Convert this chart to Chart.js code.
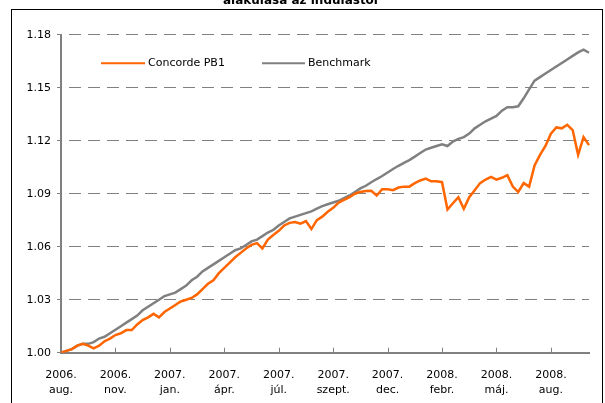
<!DOCTYPE html>
<html>
<head>
<meta charset="utf-8">
<script src="https://cdn.jsdelivr.net/npm/chart.js@4/dist/chart.umd.min.js"></script>
<style>
  html, body { margin: 0; padding: 0; background: #fff; }
  #wrap { position: relative; width: 605px; height: 403px; overflow: hidden; }
  #frame { position: absolute; left: 11px; top: 9px; width: 592px; height: 420px; border: 1px solid #000; box-sizing: border-box; }
  #chart { position: absolute; left: 0; top: -12px; }
</style>
</head>
<body>
<div id="wrap">
  <div id="frame"></div>
  <canvas id="chart" width="605" height="415"></canvas>
</div>
<script>
const titleText = "alakulása az indulástól";

const tickLabels = [
  ["2006.", "aug."], ["2006.", "nov."], ["2007.", "jan."], ["2007.", "ápr."],
  ["2007.", "júl."], ["2007.", "szept."], ["2007.", "dec."], ["2008.", "febr."],
  ["2008.", "máj."], ["2008.", "aug."]
];
const tickEvery = 10;

const concorde = [
  1.000, 1.001, 1.002, 1.004, 1.005, 1.004, 1.0025, 1.004, 1.0065, 1.008,
  1.010, 1.011, 1.0128, 1.0128, 1.016, 1.0185, 1.020, 1.022, 1.020, 1.023,
  1.025, 1.027, 1.029, 1.030, 1.031, 1.033, 1.036, 1.039, 1.041, 1.045,
  1.048, 1.051, 1.054, 1.0565, 1.059, 1.061, 1.062, 1.059, 1.064, 1.0666,
  1.069, 1.072, 1.0735, 1.074, 1.073, 1.0745, 1.070, 1.075, 1.077, 1.0798,
  1.082, 1.085, 1.0865, 1.088, 1.090, 1.091, 1.0915, 1.0917, 1.089, 1.0925,
  1.0925, 1.092, 1.0935, 1.094, 1.094, 1.096, 1.0975, 1.0985, 1.097, 1.097,
  1.0965, 1.081, 1.0846, 1.088, 1.0815, 1.088, 1.092, 1.096, 1.098, 1.0995,
  1.098, 1.099, 1.1005, 1.094, 1.091, 1.096, 1.094, 1.106, 1.112, 1.117,
  1.124, 1.1275, 1.127, 1.129, 1.126, 1.112, 1.122, 1.1175
];

const benchmark = [
  1.000, 1.001, 1.002, 1.004, 1.005, 1.005, 1.006, 1.008, 1.009, 1.011,
  1.013, 1.015, 1.017, 1.019, 1.021, 1.024, 1.026, 1.028, 1.030, 1.032,
  1.033, 1.034, 1.036, 1.038, 1.041, 1.043, 1.046, 1.048, 1.050, 1.052,
  1.054, 1.056, 1.058, 1.059, 1.061, 1.063, 1.064, 1.066, 1.068, 1.0695,
  1.072, 1.074, 1.076, 1.077, 1.078, 1.079, 1.080, 1.0815, 1.083, 1.084,
  1.085, 1.086, 1.0875, 1.089, 1.091, 1.093, 1.0945, 1.0965, 1.0983, 1.100,
  1.102, 1.104, 1.1058, 1.1075, 1.109, 1.111, 1.113, 1.115, 1.116, 1.117,
  1.118, 1.117, 1.1195, 1.121, 1.122, 1.124, 1.127, 1.129, 1.131, 1.1325,
  1.134, 1.137, 1.139, 1.139, 1.1395, 1.144, 1.149, 1.154, 1.156, 1.158,
  1.160, 1.162, 1.164, 1.166, 1.168, 1.170, 1.1715, 1.1698
];

const categories = concorde.map((v, i) => i % tickEvery === 0 ? tickLabels[i / tickEvery] : "");

const orange = "#ff6600";
const gray = "#808080";
const font = "'DejaVu Sans', Verdana, sans-serif";

// inward x ticks + legend drawn inside the plot
const extras = {
  id: "extras",
  afterDraw(chart) {
    const ctx = chart.ctx;
    const area = chart.chartArea;
    const x = chart.scales.x;
    ctx.save();
    ctx.strokeStyle = gray;
    ctx.lineWidth = 1;
    for (let i = tickEvery; i < categories.length; i += tickEvery) {
      const px = Math.round(x.getPixelForValue(i)) + 0.5;
      ctx.beginPath();
      ctx.moveTo(px, area.bottom);
      ctx.lineTo(px, area.bottom - 5);
      ctx.stroke();
    }
    const ly = area.top + 28.6;
    const items = [[40, 84, 87], [201, 244, 247]];
    chart.data.datasets.forEach((ds, k) => {
      const [a, b, t] = items[k];
      ctx.strokeStyle = ds.borderColor;
      ctx.lineWidth = 2;
      ctx.beginPath();
      ctx.moveTo(area.left + a, ly);
      ctx.lineTo(area.left + b, ly);
      ctx.stroke();
      ctx.fillStyle = "#000";
      ctx.font = "11px " + font;
      ctx.textBaseline = "middle";
      ctx.fillText(ds.label, area.left + t, ly);
    });
    ctx.restore();
  }
};

new Chart(document.getElementById("chart"), {
  type: "line",
  data: {
    labels: categories,
    datasets: [
      { label: "Concorde PB1", data: concorde, borderColor: orange, borderWidth: 2.5, pointRadius: 0, tension: 0 },
      { label: "Benchmark", data: benchmark, borderColor: gray, borderWidth: 2.5, pointRadius: 0, tension: 0 }
    ]
  },
  options: {
    responsive: false,
    animation: false,
    layout: { padding: { left: 12, right: 16, top: 0, bottom: 0 } },
    plugins: {
      legend: { display: false },
      tooltip: { enabled: false },
      title: {
        display: true,
        text: titleText,
        color: "#000",
        font: { family: font, size: 12, weight: "bold" },
        padding: { top: 6, bottom: 26.3 }
      }
    },
    scales: {
      x: {
        type: "category",
        grid: { display: false, drawTicks: false },
        border: { display: true, color: gray, width: 2 },
        ticks: {
          autoSkip: false,
          maxRotation: 0,
          padding: 15.5,
          color: "#000",
          font: { family: font, size: 11, lineHeight: 1.32 },
          callback: function (val, i) {
            return i % tickEvery === 0 ? this.getLabelForValue(val) : null;
          }
        },
        afterFit: s => { s.height = 50.3; }
      },
      y: {
        min: 1.0,
        max: 1.18,
        grid: { color: gray, lineWidth: 1, tickLength: 4, tickBorderDash: [] },
        border: { display: true, color: gray, width: 2, dash: [12, 7], dashOffset: 12 },
        ticks: {
          stepSize: 0.03,
          padding: 6,
          color: "#000",
          font: { family: font, size: 11 },
          callback: v => v.toFixed(2)
        },
        afterFit: s => { s.width = 49; }
      }
    }
  },
  plugins: [extras]
});
</script>
</body>
</html>
